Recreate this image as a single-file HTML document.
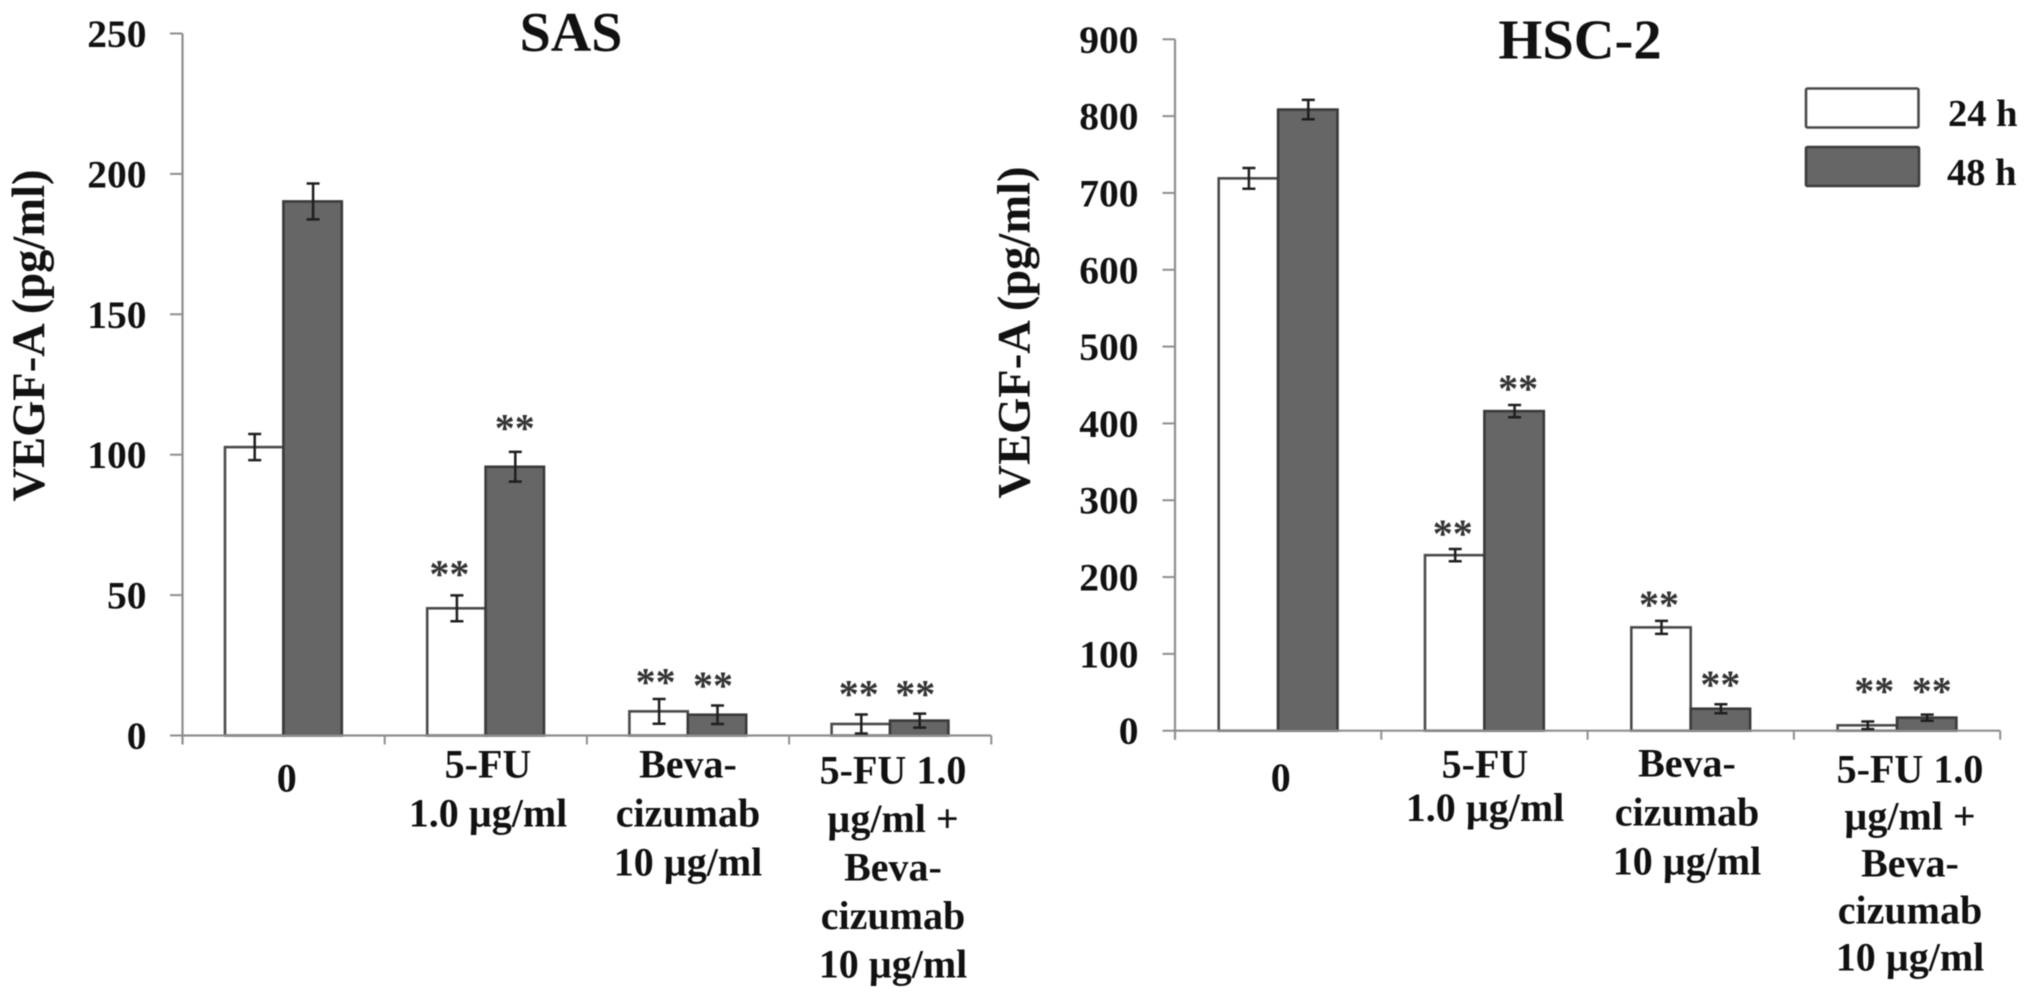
<!DOCTYPE html>
<html lang="en">
<head>
<meta charset="utf-8">
<title>VEGF-A levels in SAS and HSC-2 cells</title>
<style>
  html, body { margin: 0; padding: 0; background: #fff; }
  body { width: 2031px; height: 1000px; overflow: hidden; }
  svg { display: block; filter: blur(0.55px); }
  text { font-family: "Liberation Serif", serif; font-weight: bold; fill: #111; }
</style>
</head>
<body>
<svg id="figure" xmlns="http://www.w3.org/2000/svg" width="2031" height="1000" viewBox="0 0 2031 1000">
  <rect x="0" y="0" width="2031" height="1000" fill="#fff"/>
  <g id="panel-sas">
    <text x="571" y="51" font-size="56" text-anchor="middle">SAS</text>
    <text transform="translate(44 335.5) rotate(-90)" font-size="46.5" text-anchor="middle">VEGF-A (pg/ml)</text>
  </g>
  <g id="panel-hsc">
    <text x="1580" y="58.5" font-size="56.5" text-anchor="middle">HSC-2</text>
    <text transform="translate(1029.5 332.5) rotate(-90)" font-size="46.5" text-anchor="middle">VEGF-A (pg/ml)</text>
  </g>
  <g>
    <rect x="1806" y="88.5" width="112.5" height="39" rx="1.5" fill="#fff" stroke="#4a4a4a" stroke-width="2.6"/>
    <text x="1948" y="126" font-size="38.5">24 h</text>
    <rect x="1806" y="147" width="113" height="39" rx="1.5" fill="#666" stroke="#3c3c3c" stroke-width="2.6"/>
    <text x="1947" y="185" font-size="38.5">48 h</text>
  </g>
</svg>
<script>
// ---- SAS panel data ----
const sasCategories = [["0"], ["5-FU", "1.0 µg/ml"], ["Beva-", "cizumab", "10 µg/ml"], ["5-FU 1.0", "µg/ml +", "Beva-", "cizumab", "10 µg/ml"]];
const sasValues24h = [102.7, 45.3, 8.6, 4.1];
const sasValues48h = [190.2, 95.7, 7.4, 5.3];
const sasErrors24h = [4.65, 4.6, 4.4, 3.4];
const sasErrors48h = [6.4, 5.3, 3.3, 2.5];
const sasStarLevels24h = [null, 59.5, 21, 16.7];
const sasStarLevels48h = [null, 111.5, 19.8, 16.7];
const sasTickLabels = [0, 50, 100, 150, 200, 250];

// ---- HSC-2 panel data ----
const hscCategories = [["0"], ["5-FU", "1.0 µg/ml"], ["Beva-", "cizumab", "10 µg/ml"], ["5-FU 1.0", "µg/ml +", "Beva-", "cizumab", "10 µg/ml"]];
const hscValues24h = [719, 228.5, 134.5, 7];
const hscValues48h = [808.5, 416, 28.6, 17];
const hscErrors24h = [13.5, 8, 8.5, 5];
const hscErrors48h = [12.6, 8, 5.9, 4];
const hscStarLevels24h = [null, 264, 171.5, 58.6];
const hscStarLevels48h = [null, 452.7, 67, 58.6];
const hscTickLabels = [0, 100, 200, 300, 400, 500, 600, 700, 800, 900];

const SVG_NS = "http://www.w3.org/2000/svg";

function shape(parent, tag, props) {
  const el = document.createElementNS(SVG_NS, tag);
  for (const key in props) el.setAttribute(key, props[key]);
  parent.appendChild(el);
  return el;
}

function drawPanel(parent, prefix, opt) {
  const maxValue = opt.tickLabels[opt.tickLabels.length - 1];
  const yScale = v => opt.y0 - v * (opt.y0 - opt.yTop) / maxValue;
  const xScale = i => opt.x0 + i * opt.groupWidth;
  const barLeft = (i, s) => xScale(i) + opt.barOffset + s * opt.barWidth;
  const seriesList = [
    { id: "24h", values: opt.values24h, errors: opt.errors24h, stars: opt.stars24h, fill: "#fff", stroke: "#4a4a4a" },
    { id: "48h", values: opt.values48h, errors: opt.errors48h, stars: opt.stars48h, fill: "#666", stroke: "#3a3a3a" }
  ];

  seriesList.forEach((series, s) => {
    series.values.forEach((value, i) => {
      const bar = shape(parent, "rect", {
        x: barLeft(i, s), y: yScale(value),
        width: opt.barWidth, height: opt.y0 - yScale(value),
        fill: series.fill, stroke: series.stroke, "stroke-width": 2.6
      });
      
      
    });
  });

  // Axes
  const yAxis = shape(parent, "line", { x1: opt.x0, x2: opt.x0, y1: yScale(maxValue), y2: opt.y0 + 9, stroke: "#8e8e8e", "stroke-width": 2.2 });
  
  
  const xAxis = shape(parent, "line", { x1: opt.x0, x2: xScale(opt.categories.length), y1: opt.y0, y2: opt.y0, stroke: "#8e8e8e", "stroke-width": 2.2 });
  
  

  opt.tickLabels.forEach(label => {
    const tick = shape(parent, "line", { x1: opt.x0 - 12.5, x2: opt.x0, y1: yScale(label), y2: yScale(label), stroke: "#8e8e8e", "stroke-width": 2 });
    
    
    const tickText = shape(parent, "text", { x: opt.tickTextX, y: yScale(label) + 13.5, "font-size": 39.5, "text-anchor": "end" });
    tickText.textContent = label;
    
    
  });

  for (let i = 0; i <= opt.categories.length; i++) {
    const xTick = shape(parent, "line", { x1: xScale(i), x2: xScale(i), y1: opt.y0, y2: opt.y0 + 9, stroke: "#8e8e8e", "stroke-width": 2 });
    
    
  }

  // Error bars and significance stars
  seriesList.forEach((series, s) => {
    series.values.forEach((value, i) => {
      const cx = barLeft(i, s) + opt.barWidth / 2 + 0.5;
      const hi = yScale(value + series.errors[i]);
      const lo = yScale(value - series.errors[i]);
      const err = shape(parent, "path", {
        d: "M" + (cx - 6.5) + " " + hi + "H" + (cx + 6.5) + "M" + cx + " " + hi + "V" + lo + "M" + (cx - 6.5) + " " + lo + "H" + (cx + 6.5),
        fill: "none", stroke: "#1e1e1e", "stroke-width": 2.5
      });
      
      

      if (series.stars[i] !== null) {
        const star = shape(parent, "text", {
          x: barLeft(i, s) + opt.barWidth / 2 + opt.starNudge[s][i],
          y: yScale(series.stars[i]) + 19,
          "font-size": 40, "text-anchor": "middle"
        });
        star.textContent = "**";
        star.style.fill = "#333";
        
        
      }
    });
  });

  // Category labels
  opt.categories.forEach((lines, i) => {
    lines.forEach((line, l) => {
      const label = shape(parent, "text", {
        x: opt.labelCenters[i],
        y: opt.labelBaselines[i] + l * opt.labelSteps[i],
        "font-size": 40, "text-anchor": "middle"
      });
      label.textContent = line;
      
      
    });
  });
}

drawPanel(document.getElementById("panel-sas"), "sas", {
  categories: sasCategories,
  values24h: sasValues24h, values48h: sasValues48h,
  errors24h: sasErrors24h, errors48h: sasErrors48h,
  stars24h: sasStarLevels24h, stars48h: sasStarLevels48h,
  tickLabels: sasTickLabels,
  x0: 182.5, groupWidth: 202.2, y0: 735.5, yTop: 33.5,
  barOffset: 42.5, barWidth: 58.4, tickTextX: 146.5,
  starNudge: [[0, -7, -3, -2], [0, 0, -4, -4]],
  labelCenters: [286.7, 488, 688, 893],
  labelBaselines: [791.7, 777.7, 777.7, 783.3],
  labelSteps: [0, 49, 49, 48.6]
});

drawPanel(document.getElementById("panel-hsc"), "hsc-2", {
  categories: hscCategories,
  values24h: hscValues24h, values48h: hscValues48h,
  errors24h: hscErrors24h, errors48h: hscErrors48h,
  stars24h: hscStarLevels24h, stars48h: hscStarLevels48h,
  tickLabels: hscTickLabels,
  x0: 1175, groupWidth: 206.3, y0: 730.7, yTop: 39.3,
  barOffset: 43.7, barWidth: 59.4, tickTextX: 1138.5,
  starNudge: [[0, -2, -2, 7], [0, 4, 0, 5]],
  labelCenters: [1280.7, 1485, 1687, 1910],
  labelBaselines: [791, 777.7, 776.7, 782.7],
  labelSteps: [0, 43.3, 49, 47]
});
</script>
</body>
</html>
